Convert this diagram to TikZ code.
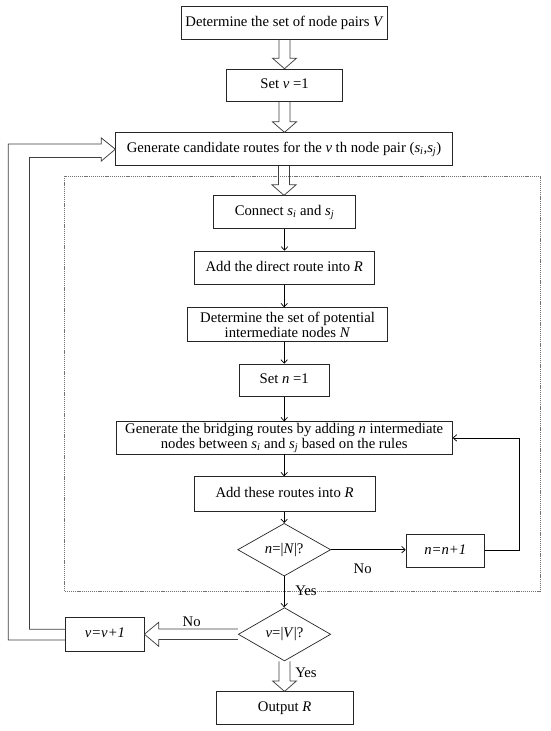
\documentclass[tikz,border=0pt]{standalone}
\usepackage{fontspec}
\setmainfont{Liberation Serif}
\usetikzlibrary{shapes.geometric,arrows.meta,calc}
\newcommand\ssub[2]{\textit{#1}\textsubscript{\textit{#2}}}
\newcommand\vhollow[2]{\draw[hollow] let \p1=(#1.south), \p2=(#2.north) in
  (\x1-5.5pt,\y1) -- (\x1-5.5pt,\y2+10.5pt) -- (\x1-12pt,\y2+10.5pt) -- (\x1,\y2)
  -- (\x1+12pt,\y2+10.5pt) -- (\x1+5.5pt,\y2+10.5pt) -- (\x1+5.5pt,\y1);}
\begin{document}
\begin{tikzpicture}[x=1pt,y=-1pt,
  font=\fontsize{14.7}{15.6}\selectfont,
  box/.style={draw=black!85,line width=0.7pt,inner sep=0pt,text height=10.3pt,text depth=3.3pt},
  boxtwo/.style={draw=black!85,line width=0.7pt,inner sep=0pt,align=center},
  dec/.style={draw=black!85,line width=0.7pt,diamond,aspect=2,inner sep=0pt,text height=10.3pt,text depth=3.3pt},
  thinarr/.style={draw=black,line width=0.7pt,-{Straight Barb[length=3.5pt,width=6.5pt]}},
  hollow/.style={draw=black!75,line width=0.75pt,line join=miter},
  dotbox/.style={draw=black!55,line width=0.6pt,dash pattern=on 1.2pt off 0.9pt},
  lbl/.style={inner sep=0pt}
]
\useasboundingbox (0,0) rectangle (550,731);
\fill[white] (0,0) rectangle (550,731);

% dotted frame
\draw[dotbox] (64,176) rectangle (540.7,591);

% nodes
\node[box,minimum width=205.6pt,minimum height=33pt] (b1) at (284.5,22.5) {Determine the set of node pairs \textit{V}};
\node[box,minimum width=115.6pt,minimum height=32.7pt] (b2) at (284.5,85.4) {Set \textit{v} =1};
\node[box,minimum width=336.6pt,minimum height=33pt] (b3) at (284,149.2) {Generate candidate routes for the \textit{v} th node pair (\ssub{s}{i},\ssub{s}{j})};
\node[box,minimum width=142.4pt,minimum height=32.6pt] (b4) at (284.5,212) {Connect \ssub{s}{i} and \ssub{s}{j}};
\node[box,minimum width=180.3pt,minimum height=33.3pt] (b5) at (284.2,267.7) {Add the direct route into \textit{R}};
\node[boxtwo,minimum width=199.6pt,minimum height=34pt] (b6) at (287.5,324.7) {Determine the set of potential\\intermediate nodes \textit{N}};
\node[box,minimum width=89.7pt,minimum height=32.7pt] (b7) at (284.2,380.4) {Set \textit{n} =1};
\node[boxtwo,minimum width=336.3pt,minimum height=32.3pt] (b8) at (284.2,437.9) {Generate the bridging routes by adding \textit{n} intermediate\\nodes between \ssub{s}{i} and \ssub{s}{j} based on the rules};
\node[box,minimum width=181pt,minimum height=35pt] (b9) at (284.5,494.2) {Add these routes into \textit{R}};
\node[dec,minimum width=93pt,minimum height=52.7pt] (d1) at (284.2,549.7) {\textit{n}=|\textit{N}|?};
\node[box,minimum width=78.3pt,minimum height=33pt] (b10) at (445.2,550.8) {\textit{n=n+1}};
\node[dec,minimum width=92.4pt,minimum height=53.3pt] (d2) at (284.5,634.3) {\textit{v}=|\textit{V}|?};
\node[box,minimum width=78.3pt,minimum height=33.7pt] (b11) at (104.9,634.2) {\textit{v=v+1}};
\node[box,minimum width=137.3pt,minimum height=32.3pt] (b12) at (284.7,707.9) {Output \textit{R}};

% labels
\node[lbl] (no1) at (362.7,568.3) {No};
\node[lbl] (yes1) at (306,591) {Yes};
\node[lbl] (no2) at (191.7,621.7) {No};
\node[lbl] (yes2) at (306,672.7) {Yes};

% hollow arrows
\vhollow{b1}{b2}
\vhollow{b2}{b3}
\vhollow{b3}{b4}
\vhollow{d2}{b12}
\draw[hollow] let \p1=(d2.west), \p2=(b11.east) in
  (\x1,\y1+5.3pt) -- (\x2+14.3pt,\y1+5.3pt) -- (\x2+14.3pt,\y1+12pt) -- (\x2,\y2)
  -- (\x2+14.3pt,\y1-12pt) -- (\x2+14.3pt,\y1-5.3pt) -- (\x1,\y1-5.3pt);
\draw[hollow] let \p1=(b11.west), \p2=(b3.west) in
  (\x1,\y1+5pt) -- (29.5pt,\y1+5pt) -- (29.5pt,\y2-8.3pt) -- (\x2-14pt,\y2-8.3pt)
  -- (\x2-14pt,\y2-11.8pt) -- (\x2,\y2) -- (\x2-14pt,\y2+11.2pt) -- (\x2-14pt,\y2+5.2pt)
  -- (8.3pt,\y2+5.2pt) -- (8.3pt,\y1-5.8pt) -- (\x1,\y1-5.8pt);

% thin arrows
\draw[thinarr] (b4.south) -- (b4.south |- b5.north);
\draw[thinarr] (b5.south) -- (b5.south |- b6.north);
\draw[thinarr] (b6.south -| b7.north) -- (b7.north);
\draw[thinarr] (b7.south) -- (b7.south |- b8.north);
\draw[thinarr] (b8.south) -- (b8.south |- b9.north);
\draw[thinarr] (b9.south -| d1.north) -- (d1.north);
\draw[thinarr] (d1.east) -- (d1.east -| b10.west);
\draw[thinarr] (b10.east) -- ++(34.7,0) |- (b8.east);
\draw[thinarr] (d1.south) -- (d1.south |- d2.north);
\end{tikzpicture}
\end{document}
